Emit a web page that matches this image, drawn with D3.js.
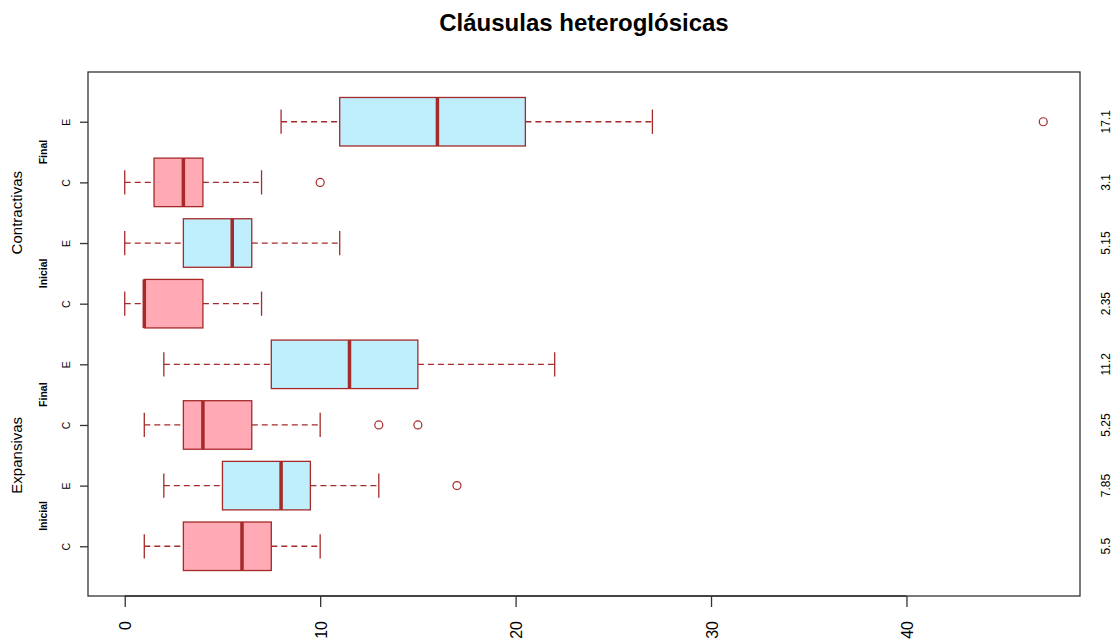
<!DOCTYPE html>
<html><head><meta charset="utf-8">
<script src="https://cdn.jsdelivr.net/npm/d3@7"></script>
<style>body{margin:0;background:#fff;}svg{display:block;font-family:"Liberation Sans",Arial,sans-serif;}</style>
</head><body>
<svg id="chart" width="1114" height="644"></svg>
<script>
// Data (bottom to top)
const groups   = ["C","E","C","E","C","E","C","E"];
const phases   = ["Inicial","Final","Inicial","Final"];
const types    = ["Expansivas","Contractivas"];
const whiskLo  = [1, 2, 1, 2, 0, 0, 0, 8];
const q1       = [3, 5, 3, 7.5, 1, 3, 1.5, 11];
const medians  = [6, 8, 4, 11.5, 1, 5.5, 3, 16];
const q3       = [7.5, 9.5, 6.5, 15, 4, 6.5, 4, 20.5];
const whiskHi  = [10, 13, 10, 22, 7, 11, 7, 27];
const outliers = [[], [17], [13, 15], [], [], [], [10], [47]];
const means    = ["5.5","7.85","5.25","11.2","2.35","5.15","3.1","17.1"];
const xTicks   = [0, 10, 20, 30, 40];
const title    = "Cláusulas heteroglósicas";

const fillC = "#FFAAB4", fillE = "#BFEEFD", stroke = "#A52A2A";
const svg = d3.select("#chart");
const L = 88, R = 1080, T = 72, B = 596;

const x = d3.scaleLinear().domain([-1.88, 48.88]).range([L, R]);
const y = d3.scaleLinear().domain([0.18, 8.82]).range([B, T]);
const bw = (y(0) - y(0.8)) / 2;

// title
svg.append("text").attr("x", (L+R)/2).attr("y", 31).attr("text-anchor","middle")
  .attr("font-size", 24).attr("font-weight","bold").attr("fill","#000").text(title);

// boxes
groups.forEach((g, i) => {
  const cy = y(i + 1);
  const gEl = svg.append("g");
  gEl.append("line").attr("x1", x(whiskLo[i])).attr("x2", x(q1[i])).attr("y1", cy).attr("y2", cy)
    .attr("stroke", stroke).attr("stroke-width", 1.3).attr("stroke-dasharray","6,4");
  gEl.append("line").attr("x1", x(q3[i])).attr("x2", x(whiskHi[i])).attr("y1", cy).attr("y2", cy)
    .attr("stroke", stroke).attr("stroke-width", 1.3).attr("stroke-dasharray","6,4");
  [whiskLo[i], whiskHi[i]].forEach(v => {
    gEl.append("line").attr("x1", x(v)).attr("x2", x(v)).attr("y1", cy - bw/2).attr("y2", cy + bw/2)
      .attr("stroke", stroke).attr("stroke-width", 1.3);
  });
  gEl.append("rect").attr("x", x(q1[i])).attr("width", x(q3[i]) - x(q1[i]))
    .attr("y", cy - bw).attr("height", 2*bw)
    .attr("fill", g === "C" ? fillC : fillE).attr("stroke", stroke).attr("stroke-width", 1.3);
  gEl.append("line").attr("x1", x(medians[i])).attr("x2", x(medians[i]))
    .attr("y1", cy - bw).attr("y2", cy + bw).attr("stroke", stroke).attr("stroke-width", 3.5);
  outliers[i].forEach(v => {
    gEl.append("circle").attr("cx", x(v)).attr("cy", cy).attr("r", 4)
      .attr("fill","none").attr("stroke", stroke).attr("stroke-width", 1.2);
  });
});

// frame
svg.append("rect").attr("x", L).attr("y", T).attr("width", R-L).attr("height", B-T)
  .attr("fill","none").attr("stroke","#333").attr("stroke-width",1.3);

// bottom axis
const xAxis = svg.append("g").attr("transform", `translate(0,${B})`)
  .call(d3.axisBottom(x).tickValues(xTicks).tickSize(11).tickFormat(d3.format("d")));
xAxis.select(".domain").attr("d", `M${x(0)},0H${x(40)}`).attr("stroke","#333").attr("stroke-width",1.3);
xAxis.selectAll(".tick line").attr("stroke","#333").attr("stroke-width",1.3);
xAxis.selectAll(".tick text").attr("font-size", 16).attr("font-family","Liberation Sans, Arial, sans-serif")
  .attr("fill","#000").attr("text-anchor","end").attr("dy", null)
  .attr("transform","translate(6,25) rotate(-90)").attr("x", 0).attr("y", 0);

// left axis
const yAxis = svg.append("g").attr("transform", `translate(${L},0)`)
  .call(d3.axisLeft(y).tickValues(d3.range(1, 9)).tickSize(8).tickFormat((d) => groups[d-1]));
yAxis.select(".domain").remove();
yAxis.selectAll(".tick line").attr("stroke","#333").attr("stroke-width",1.3);
yAxis.selectAll(".tick text").attr("font-size", 10.5).attr("font-family","Liberation Sans, Arial, sans-serif")
  .attr("fill","#000").attr("text-anchor","middle").attr("dy", null).attr("x", 0).attr("y", 0)
  .attr("transform","translate(-18,0) rotate(-90)");

// phase labels
phases.forEach((p, k) => {
  const cy = y(2*k + 1.5);
  svg.append("text").attr("transform", `translate(47,${cy}) rotate(-90)`).attr("text-anchor","middle")
    .attr("font-size", 10.5).attr("font-weight","bold").attr("fill","#000").text(p);
});
types.forEach((t, k) => {
  const cy = y(4*k + 2.5);
  svg.append("text").attr("transform", `translate(22,${cy}) rotate(-90)`).attr("text-anchor","middle")
    .attr("font-size", 15).attr("fill","#000").text(t);
});

// right labels (means)
means.forEach((m, i) => {
  svg.append("text").attr("transform", `translate(1110,${y(i+1)}) rotate(-90)`).attr("text-anchor","middle")
    .attr("font-size", 12).attr("fill","#000").text(m);
});
</script>
</body></html>
